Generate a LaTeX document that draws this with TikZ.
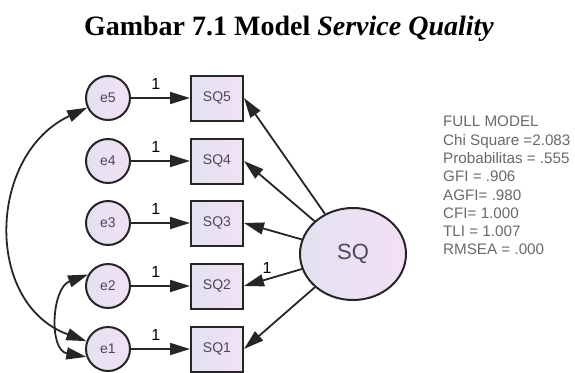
\documentclass[tikz,border=0pt]{standalone}
\usepackage{fontspec}
\setmainfont{Liberation Serif}
\setsansfont{Liberation Sans}
\usetikzlibrary{arrows.meta,shapes.geometric}
\definecolor{lavL}{RGB}{226,226,240}
\definecolor{lavR}{RGB}{243,224,245}
\definecolor{edgec}{RGB}{38,38,38}
\definecolor{lblc}{RGB}{80,70,92}
\definecolor{fitc}{RGB}{105,105,105}

\begin{document}
\begin{tikzpicture}[x=1pt,y=1pt,
    >={Triangle[length=20pt,width=12pt]},
    nodebase/.style={left color=lavL,right color=lavR,draw=edgec,line width=2pt,
      text=lblc,inner sep=0pt,font=\sffamily\fontsize{14}{14}\selectfont},
    err/.style={nodebase,circle,minimum size=44pt},
    obs/.style={nodebase,rectangle,minimum width=52pt,minimum height=45pt},
    lat/.style={nodebase,ellipse,minimum width=106pt,minimum height=92pt,
      font=\sffamily\fontsize{22}{22}\selectfont},
    wt/.style={font=\sffamily\fontsize{16}{16}\selectfont,inner sep=1pt},
    link/.style={->,line width=1.8pt,draw=edgec},
    fitbox/.style={anchor=north west,align=left,inner sep=0pt,text=fitc,
      font=\sffamily\fontsize{15.2}{18.3}\selectfont}]
  \useasboundingbox (0,0) rectangle (575,-372);

  \node[anchor=base,font=\bfseries\fontsize{28}{28}\selectfont] (title) at (289,-35)
    {Gambar 7.1 Model \textit{Service Quality}};

  % errors and indicators
  \foreach \n/\y in {5/98,4/161,3/223,2/286,1/349}{%
    \node[err] (e\n) at (108,-\y) {e\n};
    \node[obs] (sq\n) at (217,-\y) {SQ\n};
    \draw[link] (e\n) -- node[wt,above=7pt,pos=0.42] {1} (sq\n);
  }

  % latent
  \node[lat] (SQ) at (353,-254) {SQ};
  \foreach \n in {1,3,4,5}
    \draw[link] (SQ) -- (sq\n.east);
  \draw[link] (SQ) -- node[wt,above=4pt,pos=0.6] {1} (sq2.east);

  % covariances
  \draw[link,<->] (e5.205) to[out=205,in=160,looseness=1.2] (e1.160);
  \draw[link,<->] (e2.150) to[out=200,in=170,looseness=1.2] (e1.200);

  \node[fitbox] (fit) at (443,-116) {FULL MODEL\\Chi Square =2.083\\
    Probabilitas = .555\\GFI = .906\\AGFI= .980\\CFI= 1.000\\TLI = 1.007\\
    RMSEA = .000};
\end{tikzpicture}
\end{document}
